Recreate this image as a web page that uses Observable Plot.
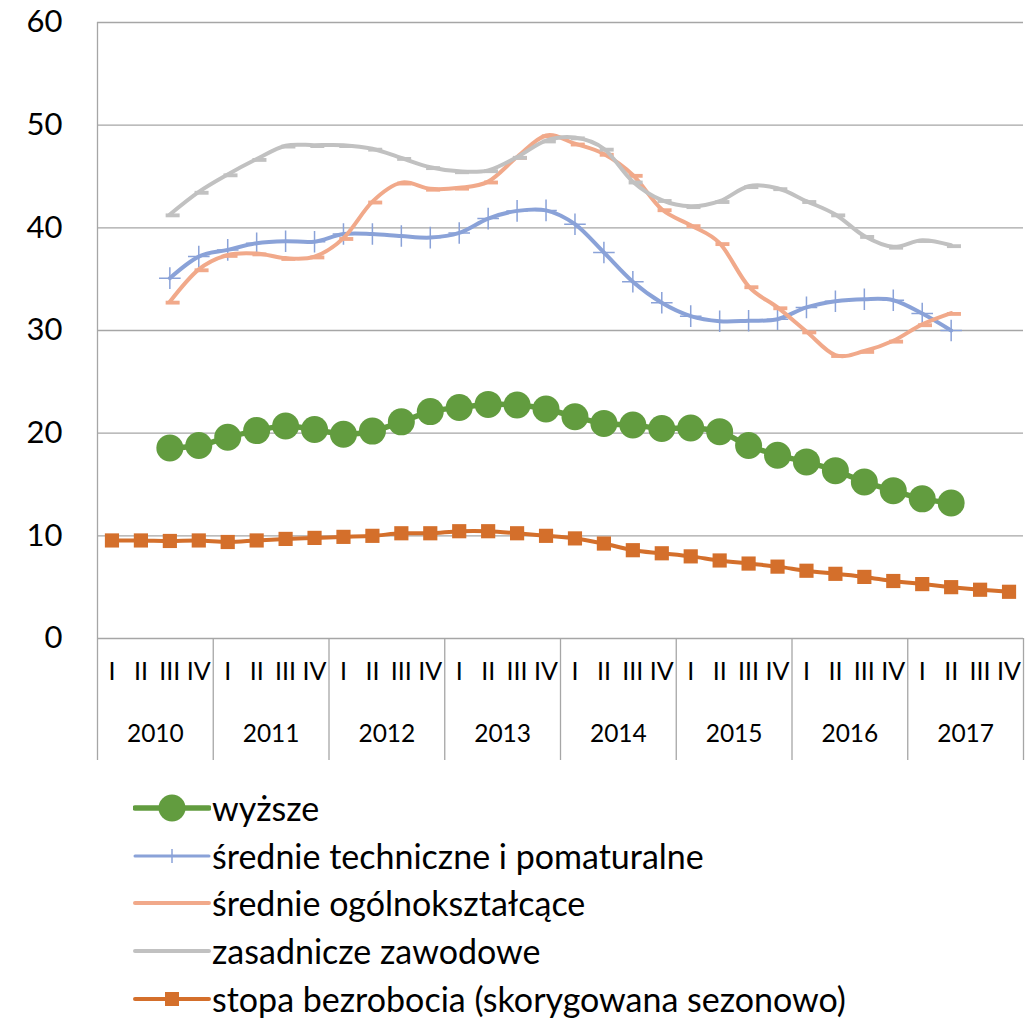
<!DOCTYPE html>
<html>
<head>
<meta charset="utf-8">
<script src="https://cdn.jsdelivr.net/npm/d3@7"></script>
<script src="https://cdn.jsdelivr.net/npm/@observablehq/plot@0.6"></script>
<style>
  html, body { margin: 0; padding: 0; background: #fff; }
  body { width: 1032px; height: 1020px; overflow: hidden; font-family: Lato, "Open Sans", sans-serif; }
  #legend { padding-left: 133px; padding-top: 14px; }
  .row { display: flex; align-items: center; height: 47.8px; }
  .row span { font-size: 34px; color: #000; margin-left: 1px; white-space: nowrap; line-height: 1; }
</style>
</head>
<body>
<div id="chart"></div>
<div id="legend"></div>
<script>
const quarters = ["I", "II", "III", "IV"];
const years = [2010, 2011, 2012, 2013, 2014, 2015, 2016, 2017];
const yTicks = [0, 10, 20, 30, 40, 50, 60];

// series start at 2010 Q3 (index 2)
const wyzsze = [null, null, 18.55, 18.8, 19.6, 20.25, 20.7, 20.35, 19.9, 20.2, 21.1, 22.1, 22.5, 22.8, 22.75, 22.35,
  21.6, 20.95, 20.8, 20.45, 20.5, 20.15, 18.8, 17.85, 17.2, 16.35, 15.25, 14.4, 13.6, 13.2, null, null];
const srednieTech = [null, null, 35.1, 37.2, 37.85, 38.5, 38.7, 38.65, 39.4, 39.4, 39.2, 39.05, 39.5, 40.9, 41.65, 41.7,
  40.35, 37.6, 34.75, 32.7, 31.4, 30.9, 30.95, 31.1, 32.25, 32.85, 33.05, 32.95, 31.65, 30.0, null, null];
const srednieOgol = [null, null, 32.8, 35.95, 37.35, 37.5, 37.05, 37.2, 39.0, 42.55, 44.4, 43.8, 43.9, 44.5, 46.9, 49.0,
  48.2, 47.2, 45.15, 41.8, 40.25, 38.5, 34.3, 32.25, 29.9, 27.6, 28.0, 29.0, 30.6, 31.7, null, null];
const zasadnicze = [null, null, 41.3, 43.5, 45.2, 46.7, 48.0, 48.05, 48.05, 47.7, 46.8, 45.9, 45.5, 45.6, 46.9, 48.5,
  48.8, 47.7, 44.5, 42.7, 42.1, 42.6, 44.05, 43.85, 42.6, 41.3, 39.2, 38.15, 38.8, 38.3, null, null];
const stopa = [9.55, 9.55, 9.5, 9.55, 9.4, 9.55, 9.7, 9.8, 9.9, 10.0, 10.25, 10.25, 10.45, 10.45, 10.25, 10.0,
  9.75, 9.25, 8.6, 8.3, 8.0, 7.6, 7.3, 7.0, 6.6, 6.3, 6.0, 5.6, 5.3, 5.0, 4.75, 4.55];

const names = ["wyższe", "średnie techniczne i pomaturalne", "średnie ogólnokształcące", "zasadnicze zawodowe", "stopa bezrobocia (skorygowana sezonowo)"];
const colors = { green: "#629c3f", blue: "#8aa2d8", salmon: "#f1a98a", gray: "#c1c1c1", orange: "#d46f2b" };

const toRows = arr => arr.map((v, k) => ({ k, v })).filter(d => d.v != null);
const qData = years.flatMap((y, i) => quarters.map((q, j) => ({ k: i * 4 + j, q })));
const yearData = years.map((y, i) => ({ x: i * 4 + 1.5, y }));
const boundaries = years.map((y, i) => i * 4 + 3.5);

const dash = {
  draw(ctx, size) {
    const r = Math.sqrt(size / Math.PI);
    ctx.rect(-r * 0.6, -r * 0.15, r * 2, r * 0.55);
  }
};

const W = 1032, H = 770, mL = 97, mR = 9, mT = 22, mB = 132;
const plotH = H - mT - mB;
const axisDepth = 122;
const curve = "cardinal";

const chart = Plot.plot({
  width: W, height: H,
  marginLeft: mL, marginRight: mR, marginTop: mT, marginBottom: mB,
  style: { fontFamily: "Lato, 'Open Sans', sans-serif", color: "#000", background: "#fff" },
  x: { domain: [-0.5, 31.5], axis: null },
  y: { domain: [0, 60], axis: null },
  marks: [
    Plot.ruleY(yTicks, { stroke: "#a6a6a6", strokeWidth: 1.3 }),
    Plot.ruleX([-0.5], { stroke: "#a6a6a6", strokeWidth: 1.3, insetBottom: -axisDepth }),
    Plot.ruleX(boundaries, { stroke: "#a6a6a6", strokeWidth: 1.3, insetTop: plotH, insetBottom: -axisDepth }),
    Plot.axisY({ ticks: yTicks, tickSize: 0, tickPadding: 35, fontSize: 31, label: null }),
    Plot.text(qData, { x: "k", text: "q", frameAnchor: "bottom", dy: 41, fontSize: 25, fill: "#000" }),
    Plot.text(yearData, { x: "x", text: d => String(d.y), frameAnchor: "bottom", dy: 103, fontSize: 24.5, fill: "#000" }),

    // wyższe
    Plot.line(toRows(wyzsze), { x: "k", y: "v", stroke: colors.green, strokeWidth: 5.5, curve }),
    Plot.dot(toRows(wyzsze), { x: "k", y: "v", r: 13.5, fill: colors.green, stroke: "none" }),
    // średnie techniczne
    Plot.line(toRows(srednieTech), { x: "k", y: "v", stroke: colors.blue, strokeWidth: 4, curve }),
    Plot.dot(toRows(srednieTech), { x: "k", y: "v", symbol: "plus", r: 7, stroke: colors.blue, strokeWidth: 1.5 }),
    // średnie ogólnokształcące
    Plot.line(toRows(srednieOgol), { x: "k", y: "v", stroke: colors.salmon, strokeWidth: 4, curve }),
    Plot.dot(toRows(srednieOgol), { x: "k", y: "v", symbol: dash, r: 7, fill: colors.salmon, stroke: "none" }),
    // zasadnicze
    Plot.line(toRows(zasadnicze), { x: "k", y: "v", stroke: colors.gray, strokeWidth: 4, curve }),
    Plot.dot(toRows(zasadnicze), { x: "k", y: "v", symbol: dash, r: 7, fill: colors.gray, stroke: "none" }),
    // stopa bezrobocia
    Plot.line(toRows(stopa), { x: "k", y: "v", stroke: colors.orange, strokeWidth: 4, curve }),
    Plot.dot(toRows(stopa), { x: "k", y: "v", symbol: "square", r: 8, fill: colors.orange, stroke: "none" })
  ]
});
document.getElementById("chart").appendChild(chart);

// legend
const legendSpecs = [
  { name: names[0], color: colors.green, width: 5.5, marker: "circle" },
  { name: names[1], color: colors.blue, width: 3, marker: "plus" },
  { name: names[2], color: colors.salmon, width: 4, marker: null },
  { name: names[3], color: colors.gray, width: 4, marker: null },
  { name: names[4], color: colors.orange, width: 4, marker: "square" }
];
const legend = d3.select("#legend");
legendSpecs.forEach(s => {
  const row = legend.append("div").attr("class", "row");
  const svg = row.append("svg").attr("width", 78).attr("height", 46);
  svg.append("line").attr("x1", 2).attr("x2", 76).attr("y1", 23).attr("y2", 23)
    .attr("stroke", s.color).attr("stroke-width", s.width).attr("stroke-linecap", "round");
  if (s.marker === "circle") svg.append("circle").attr("cx", 39).attr("cy", 23).attr("r", 13.5).attr("fill", s.color);
  if (s.marker === "square") svg.append("rect").attr("x", 32).attr("y", 16).attr("width", 14).attr("height", 14).attr("fill", s.color);
  if (s.marker === "plus") svg.append("line").attr("x1", 39).attr("x2", 39).attr("y1", 16).attr("y2", 30).attr("stroke", s.color).attr("stroke-width", 1.5);
  row.append("span").text(s.name);
});
</script>
</body>
</html>
